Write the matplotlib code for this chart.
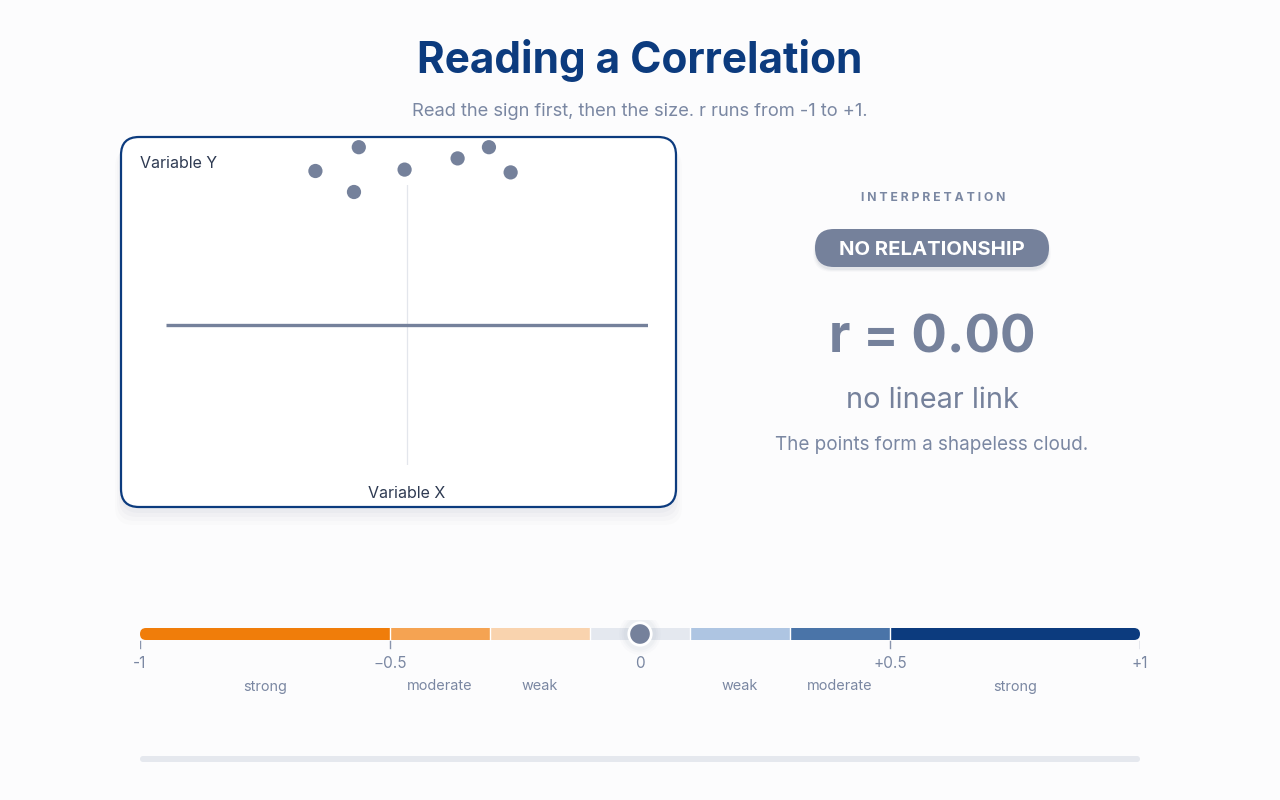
import matplotlib
matplotlib.use("Agg")
import matplotlib.pyplot as plt
from matplotlib.patches import FancyBboxPatch, Rectangle
import numpy as np

plt.rcParams['font.family'] = ['Inter', 'DejaVu Sans']

# ---- data ----
title = "Reading a Correlation"
subtitle = "Read the sign first, then the size. r runs from -1 to +1."
x_label = "Variable X"
y_label = "Variable Y"
point_x = [-0.38, -0.20, -0.22, -0.01, 0.21, 0.34, 0.43]
point_y = [1.10, 1.27, 0.95, 1.11, 1.19, 1.27, 1.09]
r_value = 0.00
fit_slope = 0.0
fit_intercept = 0.0
verdict = "NO RELATIONSHIP"
strength_text = "no linear link"
description = "The points form a shapeless cloud."

scale_bounds = [-1.0, -0.5, -0.3, -0.1, 0.1, 0.3, 0.5, 1.0]
scale_colors = ["#f07d0a", "#f5a352", "#f9d3ae", "#e4e8ef", "#aec5e2", "#4a74a8", "#0c3b7e"]
tick_values = [-1.0, -0.5, 0.0, 0.5, 1.0]
tick_labels = ["-1", "\u22120.5", "0", "+0.5", "+1"]
tick_marks = [-1.0, -0.5, 0.5, 1.0]
band_labels = ["strong", "moderate", "weak", "weak", "moderate", "strong"]
band_centers = [-0.75, -0.4, -0.2, 0.2, 0.4, 0.75]

NAVY = "#0c3b7e"
SLATE = "#75819b"
MUTED = "#7a87a2"
BG = "#fcfcfd"

fig = plt.figure(figsize=(12.8, 8), dpi=100, facecolor=BG)
bg = fig.add_axes([0, 0, 1, 1])
bg.set_xlim(0, 1280)
bg.set_ylim(800, 0)
bg.axis("off")
bg.set_facecolor(BG)

# title
bg.text(640, 60, title, ha="center", va="center", fontsize=30.5, fontweight="bold", color=NAVY)
bg.text(640, 111, subtitle, ha="center", va="center", fontsize=13.2, color=MUTED)

# panel shadow + box
for i, a in enumerate([0.025, 0.02, 0.015, 0.01]):
    bg.add_patch(FancyBboxPatch((121 - i * 2, 137 + 6 + i * 2), 555 + i * 4, 370 + i * 2,
                                boxstyle="round,pad=0,rounding_size=18",
                                facecolor="#1b2a4a", edgecolor="none", alpha=a, zorder=1))
bg.add_patch(FancyBboxPatch((121, 137), 555, 370, boxstyle="round,pad=0,rounding_size=18",
                            facecolor="white", edgecolor=NAVY, linewidth=1.6, zorder=2))
bg.text(140, 164, y_label, ha="left", va="center", fontsize=11.5, color="#2e3a52", zorder=3)
bg.text(407, 493, x_label, ha="center", va="center", fontsize=11.5, color="#2e3a52", zorder=3)

# scatter axes
ax = fig.add_axes([166 / 1280, 1 - 465 / 800, 482 / 1280, 280 / 800])
ax.set_xlim(-1, 1)
ax.set_ylim(-1, 1)
ax.axis("off")
ax.patch.set_alpha(0)
ax.plot([0, 0], [-1, 1], color="#e3e6ec", lw=0.9, zorder=1)
fx = np.array([-1.0, 1.0])
ax.plot(fx, fit_slope * fx + fit_intercept, color=SLATE, lw=2.4, solid_capstyle="butt", zorder=2)
ax.scatter(point_x, point_y, s=105, color=SLATE, edgecolors="none", clip_on=False, zorder=3)

# interpretation panel
bg.text(933, 198, " ".join("INTERPRETATION"), ha="center", va="center", fontsize=8.8,
        fontweight="bold", color=MUTED)
for i, a in enumerate([0.05, 0.035, 0.02]):
    bg.add_patch(FancyBboxPatch((815 - i, 229 + 3 + i), 234 + 2 * i, 38,
                                boxstyle="round,pad=0,rounding_size=19",
                                facecolor="#1b2a4a", edgecolor="none", alpha=a))
bg.add_patch(FancyBboxPatch((815, 229), 234, 38, boxstyle="round,pad=0,rounding_size=19",
                            facecolor=SLATE, edgecolor="none"))
bg.text(932, 250, verdict, ha="center", va="center", fontsize=14.6, fontweight="bold", color="white")
bg.text(932, 339, f"r = {r_value:.2f}", ha="center", va="center", fontsize=38,
        fontweight="bold", color=SLATE)
bg.text(932, 400, strength_text, ha="center", va="center", fontsize=20.8, color=SLATE)
bg.text(932, 445, description, ha="center", va="center", fontsize=13.6, color=MUTED)

# scale axes (x in r units, y in pixels)
sc = fig.add_axes([140 / 1280, 1 - 700 / 800, 1000 / 1280, 80 / 800])
sc.set_xlim(-1, 1)
sc.set_ylim(700, 620)
sc.axis("off")
sc.patch.set_alpha(0)
clip = FancyBboxPatch((140, 628), 1000, 12, boxstyle="round,pad=0,rounding_size=6",
                      transform=bg.transData, facecolor="none", edgecolor="none")
for lo, hi, c in zip(scale_bounds[:-1], scale_bounds[1:], scale_colors):
    rect = Rectangle((lo, 628), hi - lo, 12, facecolor=c, edgecolor="none")
    sc.add_patch(rect)
    rect.set_clip_path(clip)
for b in scale_bounds[1:-1]:
    sc.plot([b, b], [628, 640], color="white", lw=1.0)
for t in tick_marks:
    sc.plot([t, t], [641, 648], color="#8a95ad", lw=1.0)
for v, lab in zip(tick_values, tick_labels):
    sc.text(v, 664, lab, ha="center", va="center", fontsize=11, color=MUTED)
for v, lab in zip(band_centers, band_labels):
    sc.text(v, 686.5, lab, ha="center", va="center", fontsize=10.4, color=MUTED)
# knob
for s, a in [(900, 0.03), (700, 0.04), (560, 0.05)]:
    sc.scatter([r_value], [634], s=s, color="#8a95ad", alpha=a, edgecolors="none", zorder=4)
sc.scatter([r_value], [634], s=330, color="white", edgecolors="none", zorder=5)
sc.scatter([r_value], [634], s=200, color=SLATE, edgecolors="none", zorder=6)

# bottom track
bg.add_patch(FancyBboxPatch((140, 756), 1000, 6, boxstyle="round,pad=0,rounding_size=3",
                            facecolor="#e5e8ee", edgecolor="none"))

fig.savefig("out.png", dpi=100, facecolor=BG)
